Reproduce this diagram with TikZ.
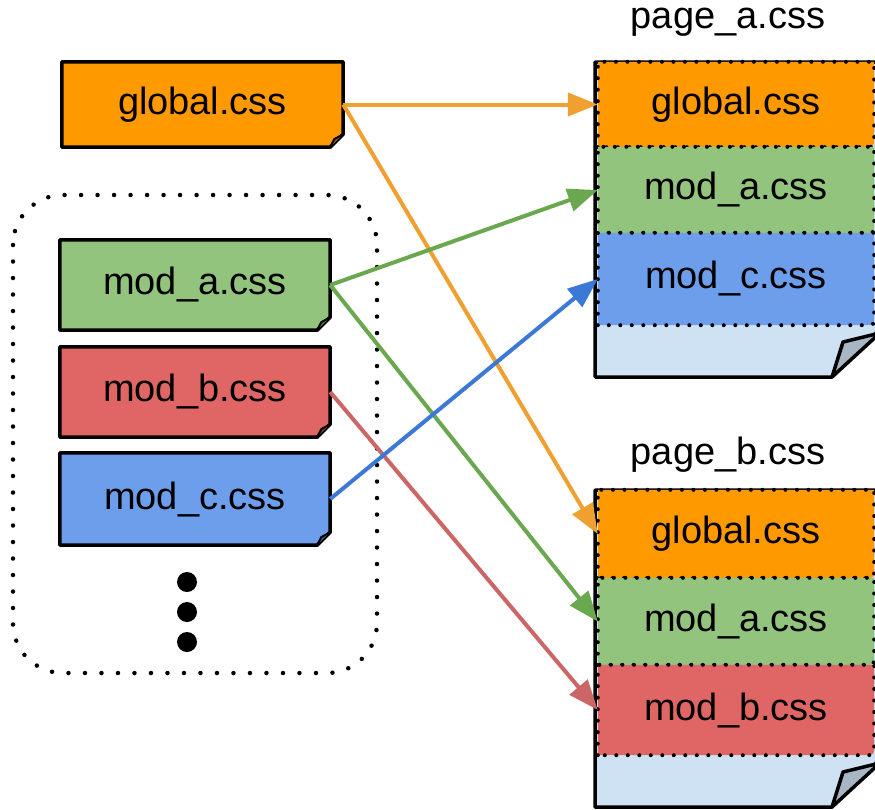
\documentclass[tikz,border=0pt]{standalone}
\usepackage{fontspec}
\setmainfont{Liberation Sans}
\usetikzlibrary{arrows.meta,backgrounds}

\definecolor{cssorange}{HTML}{FF9900}
\definecolor{cssgreen}{HTML}{93C47D}
\definecolor{cssred}{HTML}{E06666}
\definecolor{cssblue}{HTML}{6D9EEB}
\definecolor{paper}{HTML}{CFE2F3}
\definecolor{foldgray}{HTML}{A7B5C4}
\definecolor{orangeline}{HTML}{F0A030}
\definecolor{greenline}{HTML}{6AA84F}
\definecolor{redline}{HTML}{CC6666}
\definecolor{blueline}{HTML}{3C78D8}

\newcommand\cssfont{\fontsize{38}{44}\selectfont}

\begin{document}
\begin{tikzpicture}[x=1pt, y=-1pt,
        cssbox/.style={minimum width=270pt, minimum height=90pt, inner sep=0pt, font=\cssfont},
        section/.style={minimum width=276pt, inner sep=0pt, font=\cssfont},
        title/.style={inner sep=0pt, font=\cssfont},
        boxline/.style={line width=3.5pt, line join=round},
        dotline/.style={line width=4pt, line cap=round, dash pattern=on 0pt off 11.5pt},
        groupline/.style={line width=4.5pt, line cap=round, dash pattern=on 0pt off 16.5pt},
        link/.style={line width=4pt, -{Triangle[length=30pt,width=23pt]}}]
    \clip (0,0) rectangle (875,809);

    % source files
    \node [cssbox, minimum width=281pt, minimum height=85pt] (gcss) at (202.5,104.5) {global.css};
    \node [cssbox] (moda) at (195,285) {mod\_a.css};
    \node [cssbox] (modb) at (195,392) {mod\_b.css};
    \node [cssbox, minimum height=92pt] (modc) at (195,499) {mod\_c.css};

    % page_a.css
    \node [title] (pagea) at (728,22) {page\_a.css};
    \node [section, minimum height=85pt] (pa-g) at (736,104.5) {global.css};
    \node [section, minimum height=86pt] (pa-a) at (736,190) {mod\_a.css};
    \node [section, minimum height=92pt] (pa-c) at (736,279) {mod\_c.css};

    % page_b.css
    \node [title] (pageb) at (728,455) {page\_b.css};
    \node [section, minimum height=88pt] (pb-g) at (736,534) {global.css};
    \node [section, minimum height=87pt] (pb-a) at (736,621.5) {mod\_a.css};
    \node [section, minimum height=90pt] (pb-b) at (736,710) {mod\_b.css};

    \begin{scope}[on background layer]
        \fill [white] (0,0) rectangle (875,809);
        %\draw [help lines] (0,0) grid[step=50] (875,809);
        \draw [groupline] (13,195) [rounded corners=50pt] rectangle (377,673);
        \foreach \n/\c in {gcss/cssorange, moda/cssgreen, modb/cssred, modc/cssblue} {
            \draw [boxline, fill=\c] (\n.north west) -- (\n.north east) -- ([yshift=13pt]\n.south east)
                -- ([xshift=-13pt]\n.south east) -- (\n.south west) -- cycle;
            \draw [line width=2pt, fill=\c!60!black] ([xshift=-13pt]\n.south east)
                -- ([shift={(-9pt,8pt)}]\n.south east) -- ([yshift=13pt]\n.south east);
        }
        % the two pages
        \foreach \top/\bot in {62/377, 490/807} {
            \draw [boxline, fill=paper] (595,\top) -- (880,\top) -- (880,\bot-48) -- (832,\bot) -- (595,\bot) -- cycle;
            \draw [boxline, fill=foldgray] (832,\bot) -- (843,\bot-35) -- (880,\bot-44) -- cycle;
        }
        \foreach \n/\c in {pa-g/cssorange, pa-a/cssgreen, pa-c/cssblue, pb-g/cssorange, pb-a/cssgreen, pb-b/cssred} {
            \path [fill=\c] (\n.north west) -- (\n.north east) -- ([yshift=10pt]\n.south east)
                .. controls (\n.south east) .. ([xshift=-10pt]\n.south east) -- (\n.south west) -- cycle;
            \draw [dotline] (\n.south west) -- (\n.north west) -- (\n.north east) -- ([yshift=10pt]\n.south east)
                .. controls (\n.south east) .. ([xshift=-10pt]\n.south east) -- (\n.south west);
        }
    \end{scope}

    % more modules
    \fill (187,582) circle (10);
    \fill (187,612) circle (10);
    \fill (187,642) circle (10);

    \draw [link, orangeline] (gcss.east) -- (pa-g.west);
    \draw [link, orangeline] (gcss.east) -- (pb-g.west);
    \draw [link, greenline] (moda.east) -- (pa-a.west);
    \draw [link, greenline] (moda.east) -- (pb-a.west);
    \draw [link, redline] (modb.east) -- (pb-b.west);
    \draw [link, blueline] (modc.east) -- (pa-c.west);
\end{tikzpicture}
\end{document}
